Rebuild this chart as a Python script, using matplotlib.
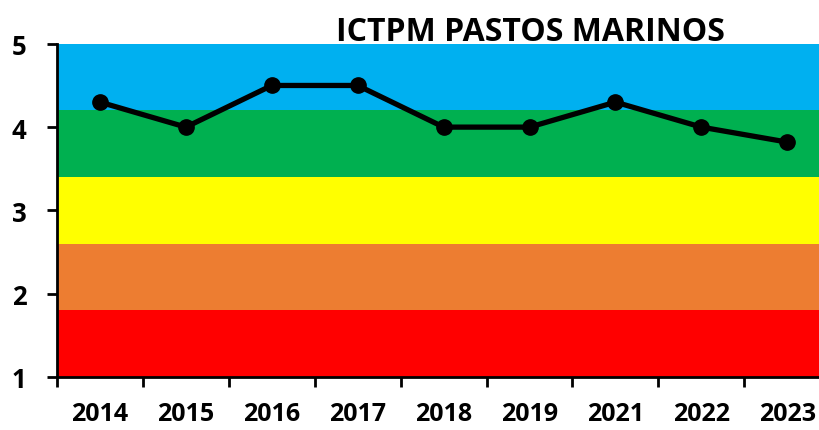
import matplotlib.pyplot as plt
import numpy as np

years = ["2014", "2015", "2016", "2017", "2018", "2019", "2021", "2022", "2023"]
ictpm = [4.3, 4.0, 4.5, 4.5, 4.0, 4.0, 4.3, 4.0, 3.82]

band_edges = [1.0, 1.8, 2.6, 3.4, 4.2, 5.0]
band_colors = ["#FF0000", "#ED7D31", "#FFFF00", "#00B050", "#00B0F0"]

plt.rcParams["font.family"] = ["Open Sans", "DejaVu Sans"]

fig = plt.figure(figsize=(8.2, 4.31), dpi=100)
ax = fig.add_axes([0.0695, 0.123, 0.943, 0.773])

x = np.arange(len(years))
for lo, hi, c in zip(band_edges[:-1], band_edges[1:], band_colors):
    ax.axhspan(lo, hi, color=c, lw=0, zorder=0)

ax.plot(x, ictpm, color="black", lw=3.8, marker="o", ms=11, zorder=3)

ax.set_xlim(-0.5, len(years) - 0.5)
ax.set_ylim(1, 5)
ax.set_yticks([1, 2, 3, 4, 5])
ax.set_yticklabels(["1", "2", "3", "4", "5"], fontsize=18.5, fontweight="bold")
ax.set_xticks(x)
ax.set_xticklabels(years, fontsize=18, fontweight="bold")
ax.set_xticks(np.arange(-0.5, len(years), 1), minor=True)
ax.tick_params(axis="x", which="major", length=0, pad=17)
ax.tick_params(axis="x", which="minor", length=7, width=2, direction="out")
ax.tick_params(axis="y", length=7, width=2, pad=15)
for s in ["top", "right"]:
    ax.spines[s].set_visible(False)
for s in ["left", "bottom"]:
    ax.spines[s].set_linewidth(2)

fig.text(0.647, 0.925, "ICTPM PASTOS MARINOS", ha="center", va="center",
         fontsize=23, fontweight="bold")

fig.savefig("out.png", dpi=100)
